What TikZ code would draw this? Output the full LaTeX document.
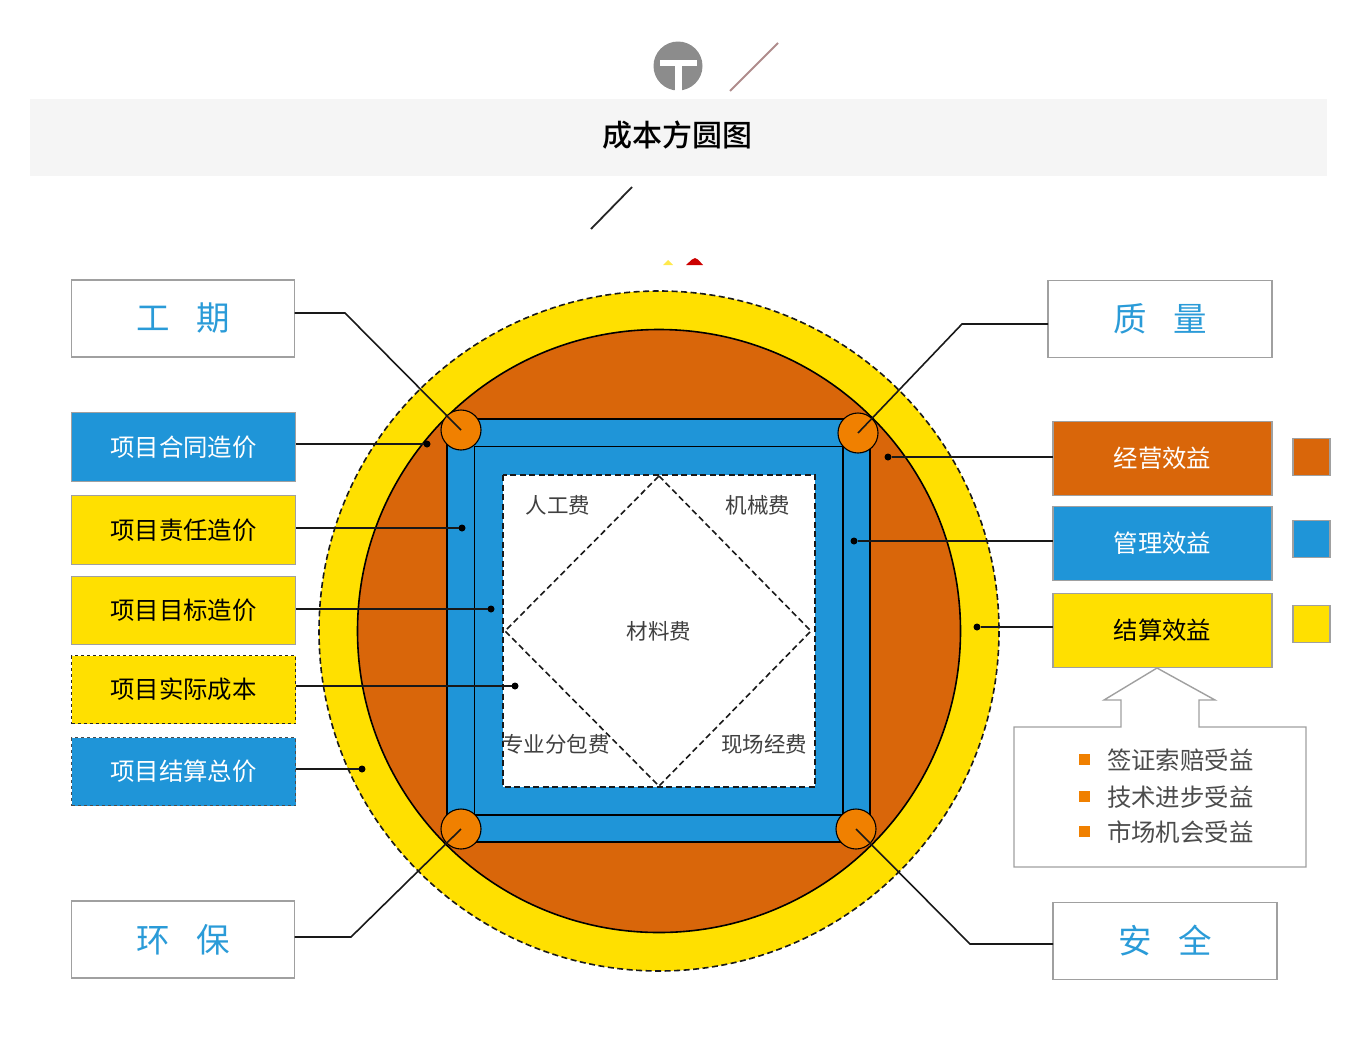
\documentclass[tikz,border=0pt]{standalone}
\usepackage{fontspec}
\setmainfont{Noto Sans CJK SC}
\newfontfamily\titlefont[UprightFont=* Medium]{Noto Sans CJK SC}
\usetikzlibrary{positioning}
\definecolor{costyellow}{HTML}{FFE000}
\definecolor{costbrown}{HTML}{D9660A}
\definecolor{costblue}{HTML}{1F95D8}
\definecolor{costorange}{HTML}{F08000}
\definecolor{textblue}{HTML}{2A9BD8}
\definecolor{edgegrey}{HTML}{A0A0A0}
\begin{document}
\begin{tikzpicture}[
        x=1pt, y=-1pt,
        every node/.style={inner sep=0pt, outer sep=0pt},
        wordbig/.style={font=\fontsize{33.5pt}{36pt}\selectfont},
        word/.style={font=\fontsize{24.4pt}{28pt}\selectfont},
        wordsmall/.style={font=\fontsize{21.5pt}{24pt}\selectfont, text=black!75},
        bigbox/.style={rectangle, draw=edgegrey, line width=1.2pt, fill=white, wordbig, text=textblue, minimum height=77pt},
        leftbox/.style={rectangle, draw=edgegrey, line width=1.2pt, word, minimum width=224pt, minimum height=68pt},
        rightbox/.style={rectangle, draw=edgegrey, line width=1.2pt, word, minimum width=219pt, minimum height=74pt},
        chip/.style={rectangle, draw=edgegrey, line width=1.2pt, minimum width=37pt, minimum height=37pt},
        corner/.style={circle, draw=black, line width=1.1pt, fill=costorange, minimum size=40pt},
        dot/.style={circle, fill=black, minimum size=7pt},
        tick/.style={rectangle, fill=costorange, minimum size=11pt},
        benefit/.style={word, text=black!70, anchor=west},
        lead/.style={draw=black!90, line width=1.6pt},
        dashline/.style={draw=black!90, line width=1.6pt, dash pattern=on 6pt off 3.5pt}
      ]
        \useasboundingbox (0,0) rectangle (1349,1061);

        \fill[black!4] (30,99) rectangle (1327,176);
        \node (title) at (677,135) [font=\fontsize{30pt}{34pt}\titlefont] {成本方圆图};

        \node (badge) at (678,66) [circle, fill=black!45, minimum size=49pt] {};
        \fill[white] (660,60) rectangle (697,65.5);
        \fill[white] (675,65) rectangle (682,91);
        \draw[line width=2pt, color=red!30!black!45] (730,91) -- (778,43);
        \draw[line width=1.8pt, color=black!85] (591,229) -- (632,187);
        \fill[costyellow!70] (663,265) -- (668,260) -- (673,265) -- cycle;
        \fill[red!80!black] (686,265) -- (692,259.5) .. controls (694,257.5) and (696,257.5) .. (698,259.5) -- (703,265) -- cycle;

        \path[fill=costyellow, dashline] (659,631) circle (340);
        \path[fill=costbrown, draw=black, line width=1.6pt] (659,631) circle (301.5);
        \path[fill=costblue, draw=black, line width=1.8pt] (447,419) rectangle (870,842);
        \draw[line width=1.6pt] (474.5,446.5) rectangle (843,815);
        \path[fill=white, dashline] (503,475) rectangle (815,787);
        \path[dashline] (659,476) -- (811,631) -- (659,786) -- (505,631) -- cycle;

        \node (rengong) at (558,505) [wordsmall] {人工费};
        \node (jixie) at (758,505) [wordsmall] {机械费};
        \node (cailiao) at (659,631) [wordsmall] {材料费};
        \node (fenbao) at (556,744) [wordsmall] {专业分包费};
        \node (xianchang) at (764,744) [wordsmall] {现场经费};

        \node (cornerA) at (461,430) [corner] {};
        \node (cornerB) at (858,433) [corner] {};
        \node (cornerC) at (461,829) [corner] {};
        \node (cornerD) at (856,829) [corner] {};

        \node (gongqi) at (183,318.5) [bigbox, minimum width=223pt] {工\hspace{27pt}期};
        \node (zhiliang) at (1160,319) [bigbox, minimum width=224pt] {质\hspace{27pt}量};
        \node (huanbao) at (183,939.5) [bigbox, minimum width=223pt] {环\hspace{27pt}保};
        \node (anquan) at (1165,941) [bigbox, minimum width=224pt] {安\hspace{27pt}全};

        \node (hetong) at (183.5,447) [leftbox, fill=costblue, text=white, minimum height=69pt] {项目合同造价};
        \node (zeren) [below=14pt of hetong, leftbox, fill=costyellow, minimum height=69pt] {项目责任造价};
        \node (mubiao) [below=12pt of zeren, leftbox, fill=costyellow] {项目目标造价};
        \node (shiji) [below=11pt of mubiao, leftbox, fill=costyellow, draw=black!85, dashed] {项目实际成本};
        \node (jiesuan) [below=14pt of shiji, leftbox, fill=costblue, text=white, draw=black!70, dashed] {项目结算总价};

        \node (jingying) at (1162.5,458.5) [rightbox, fill=costbrown, text=white] {经营效益};
        \node (guanli) [below=11pt of jingying, rightbox, fill=costblue, text=white] {管理效益};
        \node (xiaoyi) [below=13pt of guanli, rightbox, fill=costyellow] {结算效益};

        \node (chipA) [right=21pt of jingying, chip, fill=costbrown, yshift=1.5pt] {};
        \node (chipB) [right=21pt of guanli, chip, fill=costblue, yshift=4.5pt] {};
        \node (chipC) [right=21pt of xiaoyi, chip, fill=costyellow, yshift=6.5pt] {};

        \draw[edgegrey, line width=1.4pt, fill=white] (1014,727) -- (1121,727) -- (1121,700) -- (1104,700) -- (1157,668)
            -- (1215,700) -- (1199,700) -- (1199,727) -- (1306,727) -- (1306,867) -- (1014,867) -- cycle;

        \node (tickA) at (1084.5,759.5) [tick] {};
        \node (tickB) at (1084.5,796.5) [tick] {};
        \node (tickC) at (1084.5,831.5) [tick] {};
        \node (qianzheng) at (1107,760) [benefit] {签证索赔受益};
        \node (jishu) at (1107,797) [benefit] {技术进步受益};
        \node (shichang) at (1107,832) [benefit] {市场机会受益};

        \node (dotA) at (427,444) [dot] {};
        \node (dotB) at (462,528) [dot] {};
        \node (dotC) at (491,609) [dot] {};
        \node (dotD) at (515,686) [dot] {};
        \node (dotE) at (362,769) [dot] {};
        \node (dotF) at (888,457) [dot] {};
        \node (dotG) at (854,541) [dot] {};
        \node (dotH) at (977,627) [dot] {};

        \draw[lead] (dotA) -- (dotA -| hetong.east);
        \draw[lead] (dotB) -- (dotB -| zeren.east);
        \draw[lead] (dotC) -- (dotC -| mubiao.east);
        \draw[lead] (dotD) -- (dotD -| shiji.east);
        \draw[lead] (dotE) -- (dotE -| jiesuan.east);
        \draw[lead] (dotF) -- (dotF -| jingying.west);
        \draw[lead] (dotG) -- (dotG -| guanli.west);
        \draw[lead] (dotH) -- (dotH -| xiaoyi.west);

        \coordinate (kneeA) at (345,313);
        \coordinate (kneeB) at (962,324);
        \coordinate (kneeC) at (351,937);
        \coordinate (kneeD) at (970,944);
        \draw[lead] (kneeA -| gongqi.east) -- (kneeA) -- (cornerA.center);
        \draw[lead] (kneeB -| zhiliang.west) -- (kneeB) -- (cornerB.center);
        \draw[lead] (kneeC -| huanbao.east) -- (kneeC) -- (cornerC.center);
        \draw[lead] (kneeD -| anquan.west) -- (kneeD) -- (cornerD.center);
      \end{tikzpicture}
\end{document}
